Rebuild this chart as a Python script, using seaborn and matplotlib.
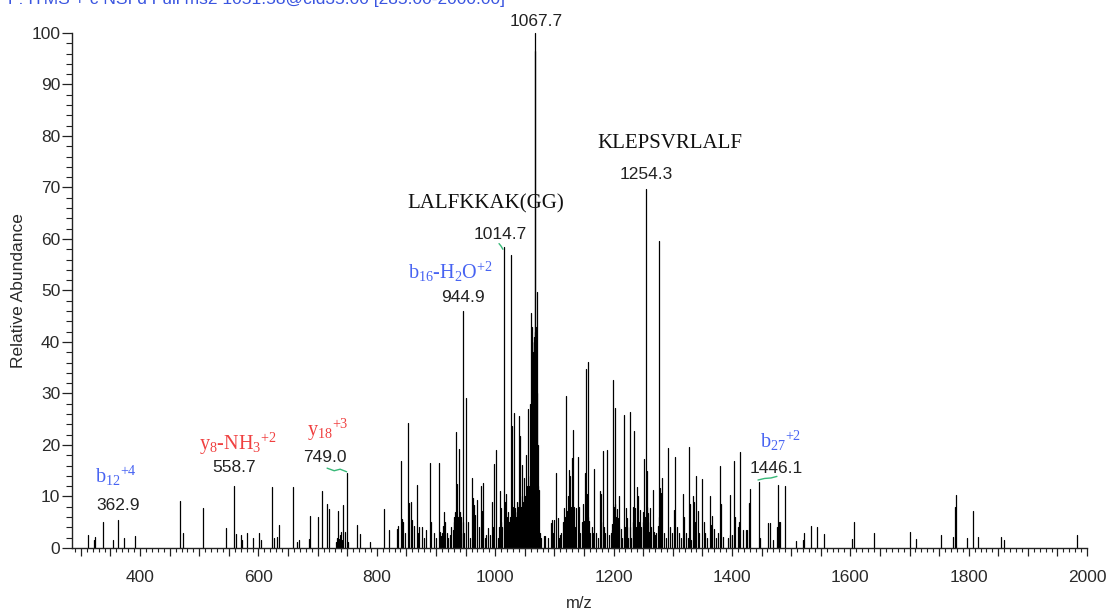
import numpy as np
import pandas as pd
import matplotlib
matplotlib.use("Agg")
import matplotlib.pyplot as plt
import seaborn as sns
from matplotlib.ticker import MultipleLocator, FuncFormatter

# ---- spectrum: centroid m/z and relative abundance (%) ----
mz = [
    312.8, 322.0, 324.0, 337.0, 355.0, 362.9, 373.0, 391.0,
    467.5, 472.0, 507.0, 546.0, 558.7, 562.0, 570.0, 572.0, 580.0, 591.0, 601.0, 605.0,
    622.8, 627.0, 631.0, 634.0, 658.8, 665.0, 668.0, 685.0, 687.0, 700.0, 708.0, 716.0,
    719.0, 731.0, 733.0, 734.7, 736.0, 737.5, 740.0, 741.5, 743.0, 746.0, 749.0, 751.0,
    766.0, 771.0, 788.0,
    811.8, 821.0, 834.0, 835.5, 841.6, 843.0, 845.0, 848.0, 853.0, 855.0, 858.5, 860.0,
    862.0, 868.5, 870.0, 872.0, 876.0, 880.0, 883.0, 889.5, 892.0, 896.0, 900.0, 905.0,
    907.0, 909.0, 910.5, 912.0, 913.5, 915.0, 918.0, 921.0, 924.0, 926.0, 929.0, 930.0,
    931.0, 932.0, 933.9, 936.0, 937.0, 939.0, 940.5, 941.0, 942.5, 943.0, 944.9, 946.0,
    948.0, 951.5, 954.6, 957.0,
    961.5, 963.0, 964.0, 966.0, 970.0, 972.0, 975.5, 977.0, 979.0, 982.0, 985.0, 988.0,
    991.0, 994.0, 996.0, 998.0, 1001.5, 1004.0, 1006.0, 1007.6, 1009.0, 1010.0, 1012.0,
    1014.7, 1016.0, 1017.0, 1018.0, 1019.0, 1020.0, 1021.0, 1022.0, 1023.0, 1024.0,
    1025.0, 1026.7, 1028.0, 1029.0, 1030.0, 1031.0, 1032.0, 1033.0, 1034.0, 1035.0,
    1036.0, 1037.0, 1038.0, 1039.0, 1040.0, 1041.0, 1042.0, 1043.0, 1044.0, 1045.0,
    1046.0, 1047.0, 1048.0, 1049.0, 1050.0, 1051.0, 1052.0, 1053.0, 1054.0, 1055.0,
    1056.0, 1057.0, 1058.0, 1059.0, 1060.5, 1061.5, 1062.0, 1063.5, 1064.5, 1065.0,
    1066.0, 1066.5, 1067.2, 1067.7, 1068.5, 1069.5, 1070.4, 1071.0, 1072.0, 1073.0,
    1074.0, 1076.0, 1078.0, 1083.0, 1084.0, 1090.0, 1093.7, 1096.0, 1098.0, 1100.0,
    1103.0, 1106.0, 1108.0, 1110.0, 1112.0, 1114.0, 1116.5, 1118.0, 1119.0, 1120.0,
    1121.0, 1122.0, 1123.0, 1124.5, 1126.0, 1127.0, 1128.0, 1129.0, 1130.0, 1131.0,
    1133.0, 1135.0, 1137.0, 1139.7, 1141.0, 1143.0, 1146.0, 1148.0, 1150.0, 1151.0,
    1152.0, 1153.8, 1155.0, 1156.5, 1157.0, 1158.0, 1160.0, 1163.0, 1165.0, 1167.0,
    1170.0, 1173.0, 1177.0, 1178.0, 1179.0, 1181.4, 1184.0, 1186.0, 1188.7, 1192.0,
    1195.0, 1197.0, 1198.0, 1199.5, 1200.5, 1201.7, 1203.0, 1204.0, 1205.0, 1206.0,
    1207.0, 1209.0, 1210.0, 1212.0, 1214.0, 1217.4, 1219.0, 1220.0, 1221.0, 1222.0,
    1223.0, 1225.0, 1227.0, 1228.0, 1229.0, 1232.0, 1233.0, 1234.4, 1235.0, 1236.0,
    1238.0, 1240.0, 1242.0, 1243.0, 1245.0, 1247.0, 1249.0, 1250.0, 1251.4, 1252.5,
    1254.3, 1256.0, 1257.0, 1258.0, 1259.0, 1260.0, 1262.0, 1264.0, 1266.0, 1268.0,
    1270.0, 1272.0, 1274.5, 1276.0, 1277.0, 1278.0, 1280.0, 1282.0, 1285.0, 1288.0,
    1292.7, 1295.0, 1298.0, 1302.6, 1304.6, 1307.0, 1310.0, 1314.0, 1317.5, 1319.0,
    1322.0, 1325.0, 1327.5, 1329.0, 1331.0, 1334.0, 1335.5, 1337.0, 1340.0, 1342.0,
    1345.0, 1349.0, 1352.0, 1355.0, 1358.0, 1362.5, 1364.0, 1366.0, 1369.0, 1373.0,
    1376.0, 1379.0, 1381.0, 1385.5, 1393.0, 1396.0, 1397.5, 1400.0, 1403.0, 1405.0,
    1410.0, 1412.0, 1414.0, 1419.0, 1423.0, 1425.0, 1429.0, 1431.0, 1446.1, 1448.0,
    1461.0, 1465.0, 1469.0, 1476.0, 1478.5, 1480.0, 1482.0, 1489.7,
    1508.0, 1520.0, 1521.5, 1534.0, 1543.0, 1556.0, 1602.0, 1607.0, 1640.0, 1700.0,
    1711.0, 1754.0, 1774.0, 1776.7, 1779.0, 1797.0, 1807.6, 1815.0, 1854.0, 1860.0,
    1983.6,
]
abundance = [
    2.5, 1.5, 2.2, 5.1, 1.5, 5.4, 2.0, 2.3,
    9.2, 3.0, 7.8, 3.8, 12.0, 2.7, 2.5, 1.6, 3.0, 2.0, 3.0, 1.5,
    11.8, 2.0, 2.2, 4.4, 11.8, 1.2, 1.6, 1.8, 6.2, 6.0, 11.0, 8.5,
    7.6, 1.2, 2.0, 7.2, 1.8, 2.5, 3.2, 1.5, 8.4, 3.2, 14.6, 1.2,
    4.5, 2.8, 1.2,
    7.6, 3.4, 3.7, 4.3, 16.8, 5.7, 5.1, 3.0, 24.2, 8.8, 8.9, 5.4,
    4.2, 12.2, 3.0, 4.0, 4.0, 2.0, 3.5, 16.6, 5.0, 3.0, 2.0, 16.6,
    3.2, 2.4, 3.0, 4.3, 6.9, 5.0, 3.0, 2.0, 2.5, 4.0, 3.5, 6.0,
    5.0, 7.0, 22.5, 12.4, 6.0, 19.2, 5.3, 7.0, 3.0, 6.0, 46.0, 5.0,
    3.0, 29.1, 5.0, 2.0,
    13.5, 9.7, 8.4, 6.5, 9.4, 4.0, 12.1, 7.1, 12.6, 2.0, 2.5, 3.9,
    2.5, 8.9, 4.0, 16.3, 19.1, 2.0, 4.0, 11.0, 5.0, 7.8, 4.0,
    58.5, 9.0, 5.0, 6.0, 10.4, 6.0, 4.0, 7.0, 5.0, 5.0,
    6.0, 56.9, 7.0, 23.6, 8.0, 6.0, 26.2, 7.0, 7.8, 6.0,
    9.0, 7.0, 6.0, 8.0, 25.7, 9.0, 21.8, 8.0, 8.0, 10.0,
    16.2, 9.0, 9.0, 13.6, 10.0, 10.0, 18.1, 11.0, 12.0, 10.0,
    26.9, 12.0, 14.0, 28.0, 45.6, 40.0, 43.0, 19.7, 38.0, 40.0,
    41.0, 42.0, 96.5, 100.0, 43.0, 42.7, 49.7, 30.0, 20.0, 12.0,
    11.3, 3.0, 2.0, 2.3, 2.4, 2.0, 4.9, 5.5, 3.0, 5.5,
    14.6, 5.8, 2.0, 2.5, 3.0, 5.0, 7.8, 6.0, 29.6, 5.0,
    7.1, 6.0, 10.0, 15.2, 6.0, 13.9, 8.0, 17.5, 7.0, 23.0,
    8.0, 4.0, 7.8, 17.7, 8.0, 3.0, 5.0, 8.6, 5.2, 4.0,
    14.6, 34.8, 10.5, 36.1, 6.0, 5.2, 3.0, 4.0, 3.0, 15.3,
    3.0, 2.0, 11.0, 5.0, 10.5, 18.8, 4.0, 3.0, 19.0, 2.5,
    3.0, 3.5, 4.7, 32.7, 8.0, 27.2, 8.6, 6.0, 7.6, 5.0,
    5.8, 10.0, 4.0, 3.6, 2.0, 25.9, 2.0, 4.0, 7.8, 4.0,
    5.8, 2.0, 26.4, 4.0, 2.0, 8.0, 5.0, 22.7, 6.0, 7.8,
    4.0, 11.8, 10.0, 5.0, 7.3, 4.0, 7.0, 5.0, 17.2, 6.0,
    69.8, 14.9, 8.0, 6.8, 5.0, 3.2, 7.8, 4.0, 11.3, 3.2,
    2.5, 3.0, 4.2, 59.6, 6.0, 11.7, 10.7, 13.6, 3.0, 2.0,
    19.5, 4.0, 3.0, 7.3, 17.7, 4.0, 3.0, 2.0, 10.5, 6.1,
    3.0, 2.0, 19.6, 8.6, 1.5, 10.0, 8.9, 5.0, 13.9, 7.1,
    3.0, 13.4, 5.0, 3.0, 2.0, 10.0, 4.5, 6.3, 3.6, 2.0,
    3.0, 16.0, 8.6, 2.1, 2.0, 2.5, 10.2, 2.5, 16.8, 6.0,
    4.0, 5.0, 18.7, 3.5, 3.4, 3.4, 8.7, 11.5, 12.8, 1.9,
    4.9, 4.9, 1.5, 4.0, 12.2, 5.0, 5.0, 12.0,
    1.4, 1.5, 3.0, 4.3, 4.1, 2.7, 1.7, 5.1, 3.0, 3.1,
    1.8, 2.5, 2.1, 8.0, 10.2, 1.9, 7.2, 2.1, 2.1, 1.6,
    2.5,
]

# annotated peaks and their assignments
tagged_mz = [362.9, 558.7, 749.0, 944.9, 1014.7, 1067.7, 1254.3, 1446.1]
ion_names = ["b$_{12}$$^{+4}$", "y$_{8}$-NH$_{3}$$^{+2}$", "y$_{18}$$^{+3}$",
             "b$_{16}$-H$_{2}$O$^{+2}$", "b$_{27}$$^{+2}$"]
peptide_names = ["LALFKKAK(GG)", "KLEPSVRLALF"]
scan_header = "F: ITMS + c NSI d Full ms2 1051.58@cid35.00 [285.00-2000.00]"

x_ticks_labelled = 200

# ---- styling ----
sns.set_theme(style="ticks")
plt.rcParams["font.family"] = ["Liberation Sans", "DejaVu Sans"]
plt.rcParams["mathtext.fontset"] = "custom"
plt.rcParams["mathtext.rm"] = "Liberation Serif"
plt.rcParams["mathtext.it"] = "Liberation Serif:italic"
plt.rcParams["mathtext.bf"] = "Liberation Serif:bold"

fig = plt.figure(figsize=(11.13, 6.14), dpi=100)
ax = fig.add_axes([0.0647, 0.1075, 0.912, 0.8388])

# stick spectrum: each peak is a vertical segment from the baseline
peaks = pd.DataFrame({"mz": mz, "abundance": abundance})
peaks["peak"] = np.arange(len(peaks))
stems = pd.concat([peaks.assign(abundance=0.0), peaks], ignore_index=True)
sns.lineplot(data=stems, x="mz", y="abundance", units="peak", estimator=None,
             color="black", linewidth=0.9, legend=False, ax=ax, sort=False)
for ln in ax.lines:
    ln.set_clip_on(False)

ax.set_xlim(285, 2000)
ax.set_ylim(0, 100)
sns.despine(ax=ax)
for side in ("left", "bottom"):
    ax.spines[side].set_linewidth(1.0)
    ax.spines[side].set_color("#222222")

ax.xaxis.set_major_locator(MultipleLocator(50))
ax.xaxis.set_minor_locator(MultipleLocator(10))
ax.xaxis.set_major_formatter(FuncFormatter(
    lambda v, p: f"{int(round(v))}" if int(round(v)) % x_ticks_labelled == 0 else ""))
ax.yaxis.set_major_locator(MultipleLocator(10))
ax.yaxis.set_minor_locator(MultipleLocator(2))
ax.tick_params(axis="both", which="major", direction="out", width=0.9,
               color="#222222", labelsize=12.5, labelcolor="#2a2a2a")
ax.tick_params(axis="x", which="major", length=6, pad=9.5)
ax.tick_params(axis="x", which="minor", length=3, width=0.8, color="#222222")
ax.tick_params(axis="y", which="major", length=7, pad=1.5)
ax.tick_params(axis="y", which="minor", length=4, width=0.8, color="#222222")

ax.set_xlabel("m/z", fontsize=12, color="#2a2a2a", labelpad=8)
ax.set_ylabel("Relative Abundance", fontsize=12.5, color="#2a2a2a", labelpad=4)

# ---- annotations ----
num_kw = dict(fontsize=12.5, color="#222222", ha="center", va="center",
              clip_on=False, family=["Liberation Sans", "DejaVu Sans"])
tag_pos = {
    362.9: (363.0, 8.3), 558.7: (558.3, 15.6), 749.0: (712.0, 17.6),
    944.9: (946.2, 48.6), 1014.7: (1008.8, 60.8), 1067.7: (1068.5, 102.3),
    1254.3: (1255.0, 72.5), 1446.1: (1474.2, 15.4),
}
for m in tagged_mz:
    x, y = tag_pos[m]
    ax.text(x, y, f"{m:.1f}", **num_kw)

blue = "#4763f2"
red = "#f04040"
ion_kw = dict(fontsize=14.5, ha="center", va="center", clip_on=False,
              family=["Liberation Serif", "DejaVu Serif"])
ion_pos = [(360.0, 14.0, blue), (564.7, 20.2, red), (717.6, 23.0, red),
           (923.7, 53.6, blue), (1482.4, 20.8, blue)]
for name, (x, y, c) in zip(ion_names, ion_pos):
    ax.text(x, y, name, color=c, **ion_kw)

pep_kw = dict(ion_kw, fontsize=15)
pep_pos = [(983.7, 66.9), (1295.4, 78.6)]
for name, (x, y) in zip(peptide_names, pep_pos):
    ax.text(x, y, name, color="#111111", **pep_kw)

# small green leader ticks under some labels
green = "#38b878"
ax.plot([716, 728, 738, 749], [15.5, 15.0, 15.3, 14.8], color=green, lw=1.0, clip_on=False)
ax.plot([1444, 1455, 1466, 1476], [13.2, 13.5, 13.6, 13.9], color=green, lw=1.0, clip_on=False)
ax.plot([1006.5, 1010, 1013], [59.1, 58.6, 58.0], color=green, lw=1.0, clip_on=False)

fig.text(0.007, 1 - 4 / 614, scan_header, color="#3a55e0", fontsize=12.5,
         va="baseline", ha="left")

fig.savefig("out.png", dpi=100)
